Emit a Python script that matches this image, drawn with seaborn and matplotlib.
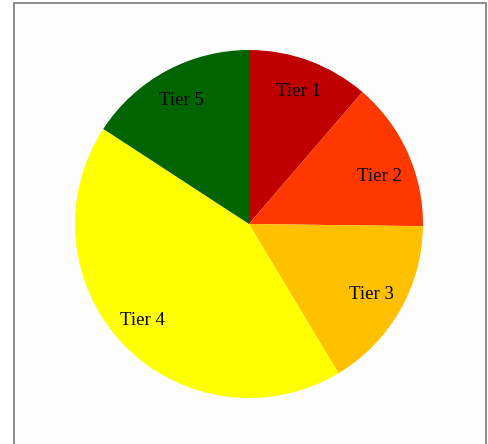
import matplotlib
matplotlib.use("Agg")
import matplotlib.pyplot as plt
from matplotlib.patches import Rectangle
import seaborn as sns

# Share of items per tier (percent)
tiers = ["Tier 1", "Tier 2", "Tier 3", "Tier 4", "Tier 5"]
shares = [11.3, 13.9, 16.2, 42.8, 15.8]
tier_colors = ["#C00000", "#FF3800", "#FFC000", "#FFFF00", "#006400"]

sns.set_theme(style="white")
plt.rcParams["font.family"] = ["Liberation Serif", "DejaVu Serif"]

W, H, DPI = 488, 444, 100
fig = plt.figure(figsize=(W / DPI, H / DPI), dpi=DPI)
fig.patch.set_facecolor("white")

# Panel frame on a background axes
bg = fig.add_axes([0, 0, 1, 1], zorder=0)
bg.set_xlim(0, W)
bg.set_ylim(H, 0)
bg.axis("off")
bg.add_patch(Rectangle((13.5, 3.5), 486 - 13.5, H + 10, facecolor="#FDFDFD",
                       edgecolor="#8C8C8C", linewidth=1.4, clip_on=False))

cx, cy, r = 249, 224, 174
ax = fig.add_axes([(cx - r) / W, (H - cy - r) / H, 2 * r / W, 2 * r / H], zorder=2)
ax.set_facecolor("none")

palette = sns.color_palette(tier_colors)
wedges, texts = ax.pie(shares, labels=tiers, colors=palette, startangle=90,
                       counterclock=False, labeldistance=0.81, radius=1,
                       textprops=dict(fontsize=13.5, color="black",
                                      ha="center", va="center"),
                       wedgeprops=dict(linewidth=0))

# Small label nudges so the text sits well inside its wedge
nudges = {"Tier 2": (0.01, -0.06), "Tier 4": (-0.03, 0.01)}
for t in texts:
    dx, dy = nudges.get(t.get_text(), (0, 0))
    x, y = t.get_position()
    t.set_position((x + dx, y + dy))

ax.set_xlim(-1, 1)
ax.set_ylim(-1, 1)
ax.set_aspect("equal")
ax.axis("off")

fig.savefig("out.png", dpi=DPI)
